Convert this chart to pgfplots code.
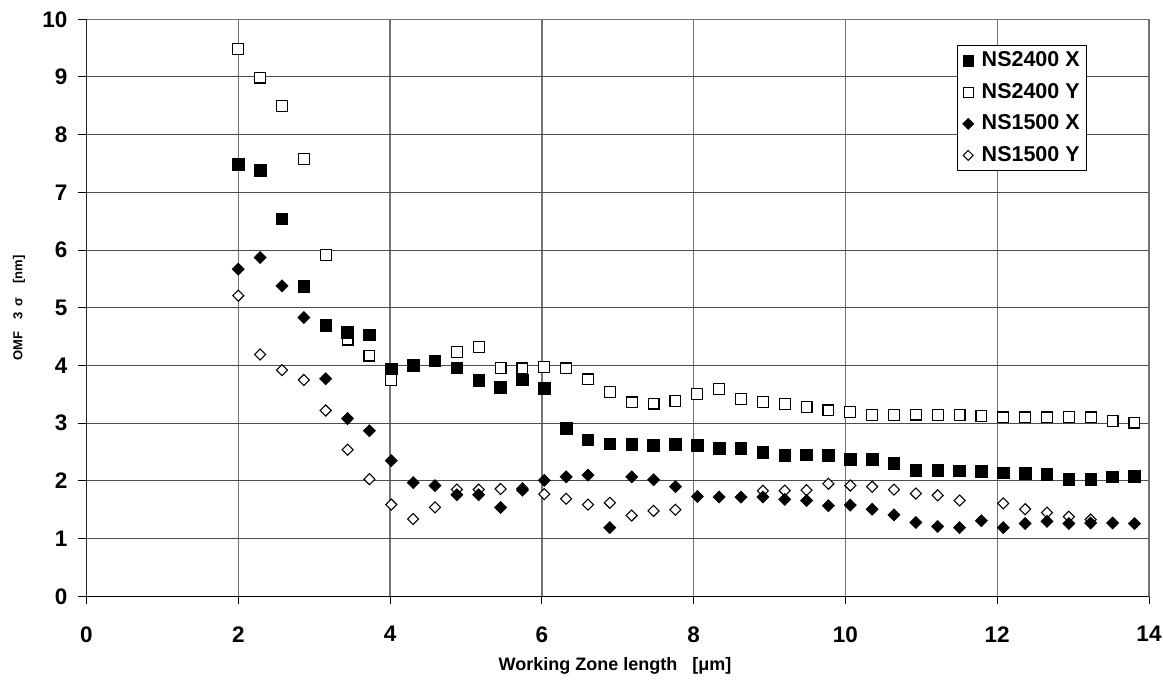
\documentclass[border=0pt]{standalone}
\usepackage{pgfplots}
\pgfplotsset{compat=1.18}
\usepackage{fontspec}
\setmainfont{Liberation Sans}
\begin{document}
\begin{tikzpicture}
\path[use as bounding box] (-43.25pt,-43.85pt) rectangle (538.25pt,298.15pt);
\begin{axis}[
  at={(0pt,0pt)}, anchor=south west,
  width=531.25pt, height=288.5pt, scale only axis,
  xmin=0, xmax=14, ymin=0, ymax=10,
  xtick={0,2,...,14}, ytick={0,1,...,10},
  tick align=outside, major tick length=4pt,
  tick style={black, line width=0.5pt},
  xtick pos=bottom, ytick pos=left,
  grid=major,
  x grid style={black!55, line width=0.65pt},
  y grid style={black!70, line width=0.5pt},
  axis line style={black!55, line width=0.6pt},
  /pgf/number format/assume math mode=true,
  ticklabel style={font=\bfseries\fontsize{11.25}{13}\selectfont},
  yticklabel style={xshift=-2pt},
  xticklabel style={yshift=-7.5pt},
  xlabel={Working Zone length\ \ \ [μm]},
  ylabel={OMF\hspace{6pt}3\hspace{3pt}σ\hspace{7pt}[nm]},
  xlabel style={font=\bfseries\fontsize{9}{11}\selectfont, at={(axis description cs:0.4974,-0.1208)}, anchor=center},
  ylabel style={font=\bfseries\fontsize{6.5}{8}\selectfont, at={(axis description cs:-0.0635,0.5)}, anchor=center},
  legend style={at={(rel axis cs:0.8195,0.9555)}, anchor=north west, draw=black, line width=0.5pt,
    font=\bfseries\fontsize{10.75}{12}\selectfont, row sep=2.75pt, inner xsep=1.5pt, inner ysep=1.2pt,
    cells={anchor=west}},
  legend image code/.code={\path (0pt,0pt) (8pt,0pt); \draw[mark repeat=2,mark phase=2,#1] plot coordinates {(0pt,0pt)(3.5pt,0pt)(7pt,0pt)};},
]
\addlegendimage{only marks, mark=square*, mark size=2.6pt, mark options={fill=black, draw=black}}
\addlegendentry{NS2400 X}
\addlegendimage{only marks, mark=square*, mark size=2.4pt, mark options={fill=white, draw=black, line width=0.5pt}}
\addlegendentry{NS2400 Y}
\addlegendimage{only marks, mark=square*, mark size=1.9pt, mark options={fill=black, draw=black, rotate=45}}
\addlegendentry{NS1500 X}
\addlegendimage{only marks, mark=square*, mark size=1.75pt, mark options={fill=white, draw=black, line width=0.5pt, rotate=45}}
\addlegendentry{NS1500 Y}

% NS2400 Y (open squares)
\addplot[forget plot, only marks, mark=square*, mark size=2.7pt, mark options={fill=white, draw=black, line width=0.6pt}] coordinates {
(2.000,9.49) (2.288,8.99) (2.576,8.50) (2.864,7.58) (3.152,5.92) (3.440,4.45) (3.728,4.17) (4.016,3.75)
(4.880,4.23) (5.168,4.32) (5.456,3.96) (5.744,3.95) (6.032,3.97) (6.320,3.95) (6.608,3.76) (6.896,3.54)
(7.184,3.36) (7.472,3.34) (7.760,3.38) (8.048,3.51) (8.336,3.59) (8.624,3.42) (8.912,3.37) (9.200,3.33)
(9.488,3.28) (9.776,3.22) (10.064,3.19) (10.352,3.14) (10.640,3.14) (10.928,3.15) (11.216,3.14) (11.504,3.14)
(11.792,3.12) (12.080,3.10) (12.368,3.10) (12.656,3.10) (12.944,3.11) (13.232,3.10) (13.520,3.04) (13.808,3.01)
};
% NS1500 Y (open diamonds)
\addplot[forget plot, only marks, mark=square*, mark size=1.95pt, mark options={fill=white, draw=black, line width=0.55pt, rotate=45}] coordinates {
(2.000,5.21) (2.288,4.19) (2.576,3.92) (2.864,3.75) (3.152,3.22) (3.440,2.54) (3.728,2.03) (4.016,1.59)
(4.304,1.34) (4.592,1.54) (4.880,1.85) (5.168,1.85) (5.456,1.86) (5.744,1.87) (6.032,1.77) (6.320,1.69)
(6.608,1.59) (6.896,1.62) (7.184,1.40) (7.472,1.48) (7.760,1.50)
(8.912,1.83) (9.200,1.83) (9.488,1.84) (9.776,1.95) (10.064,1.92) (10.352,1.90) (10.640,1.85) (10.928,1.78)
(11.216,1.75) (11.504,1.66) (12.080,1.61) (12.368,1.51) (12.656,1.45) (12.944,1.38) (13.232,1.33)
};
% NS2400 X (filled squares)
\addplot[forget plot, only marks, mark=square*, mark size=2.9pt, mark options={fill=black, draw=black}] coordinates {
(2.000,7.49) (2.288,7.38) (2.576,6.54) (2.864,5.37) (3.152,4.69) (3.440,4.57) (3.728,4.53) (4.016,3.94)
(4.304,4.00) (4.592,4.08) (4.880,3.96) (5.168,3.74) (5.456,3.62) (5.744,3.75) (6.032,3.60) (6.320,2.91)
(6.608,2.71) (6.896,2.64) (7.184,2.63) (7.472,2.61) (7.760,2.63) (8.048,2.62) (8.336,2.56) (8.624,2.56)
(8.912,2.49) (9.200,2.44) (9.488,2.45) (9.776,2.44) (10.064,2.37) (10.352,2.37) (10.640,2.30) (10.928,2.18)
(11.216,2.18) (11.504,2.17) (11.792,2.16) (12.080,2.14) (12.368,2.13) (12.656,2.11) (12.944,2.03) (13.232,2.03)
(13.520,2.07) (13.808,2.08)
};
% NS1500 X (filled diamonds)
\addplot[forget plot, only marks, mark=square*, mark size=2.1pt, mark options={fill=black, draw=black, rotate=45}] coordinates {
(2.000,5.67) (2.288,5.87) (2.576,5.38) (2.864,4.83) (3.152,3.77) (3.440,3.08) (3.728,2.87) (4.016,2.35)
(4.304,1.97) (4.592,1.92) (4.880,1.76) (5.168,1.76) (5.456,1.54) (5.744,1.84) (6.032,2.01) (6.320,2.07)
(6.608,2.10) (6.896,1.19) (7.184,2.07) (7.472,2.02) (7.760,1.90) (8.048,1.73) (8.336,1.72) (8.624,1.72)
(8.912,1.72) (9.200,1.68) (9.488,1.66) (9.776,1.57) (10.064,1.58) (10.352,1.51) (10.640,1.41) (10.928,1.28)
(11.216,1.21) (11.504,1.19) (11.792,1.31) (12.080,1.19) (12.368,1.26) (12.656,1.30) (12.944,1.26) (13.232,1.27)
(13.520,1.27) (13.808,1.26)
};
\draw[black, line width=0.7pt] (rel axis cs:0,1) -- (rel axis cs:0,0) -- (rel axis cs:1,0);
\end{axis}
\end{tikzpicture}
\end{document}
